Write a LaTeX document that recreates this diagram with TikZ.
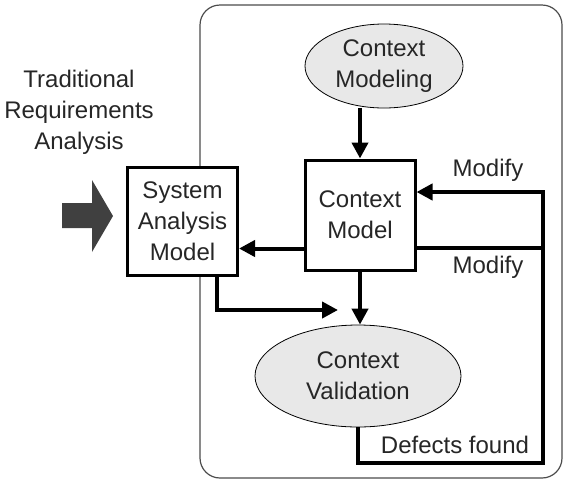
\documentclass[tikz,border=0pt]{standalone}
\usepackage{fontspec}
\setmainfont{Liberation Sans}
\usetikzlibrary{arrows.meta,shapes.geometric,positioning}

\begin{document}
\begin{tikzpicture}[x=0.5pt,y=-0.5pt,font=\fontsize{12}{15.5}\selectfont,text=black!85,
  box/.style={draw,fill=white,line width=1.5pt,align=center,inner sep=0pt,minimum width=55pt},
  oval/.style={ellipse,draw,fill=black!9,align=center,inner sep=0pt},
  flow/.style={line width=2pt,-{Triangle[length=8pt,width=8pt]}}]
  \useasboundingbox (0,0) rectangle (567,483);
  % --- frame round the context part
  \draw[black!70,line width=0.6pt,rounded corners=10pt] (200,5) rectangle (562,478);
  % --- nodes
  \node[box,minimum height=54pt] (sam) at (182.5,221) {System\\Analysis\\Model};
  \node[box,minimum height=55pt] (cm) at (360,215) {Context\\Model};
  \node[oval,minimum width=79pt,minimum height=42pt] (cmod) at (384,66) {Context\\Modeling};
  \node[oval,minimum width=103pt,minimum height=51pt] (cval) at (358,376) {Context\\Validation};
  \node[align=center,inner sep=0pt] (trad) at (79,112) {Traditional\\Requirements\\Analysis};
  \node[inner sep=0pt] (mod1) at (488,170) {Modify};
  \node[inner sep=0pt] (mod2) at (488,267) {Modify};
  \node[inner sep=0pt] (def) at (455,445) {Defects found};
  \coordinate (rt) at (543,192);
  \coordinate (rb) at (543,463);
  \coordinate (tgt) at (338,310);
  % --- input arrow
  \fill[black!75] (62,203) -- (92,203) -- (92,180) -- (113,216) -- (92,252) -- (92,228) -- (62,228) -- cycle;
  % --- connectors
  \draw[flow] (cm.north |- cmod.south) -- (cm.north);
  \draw[flow] (cm.south) -- (cm.south |- cval.north);
  \draw[flow] ([yshift=11.5pt]cm.south west) -- ([yshift=11.5pt]cm.south west -| sam.east);
  \draw[flow] ([xshift=-11pt]sam.south east) |- (tgt);
  \draw[line width=2pt] ([yshift=12pt]cm.south east) -- ([yshift=12pt]cm.south east -| rt);
  \draw[flow] (cval.south) |- (rb) -- (rt) -- (rt -| cm.east);
\end{tikzpicture}
\end{document}
